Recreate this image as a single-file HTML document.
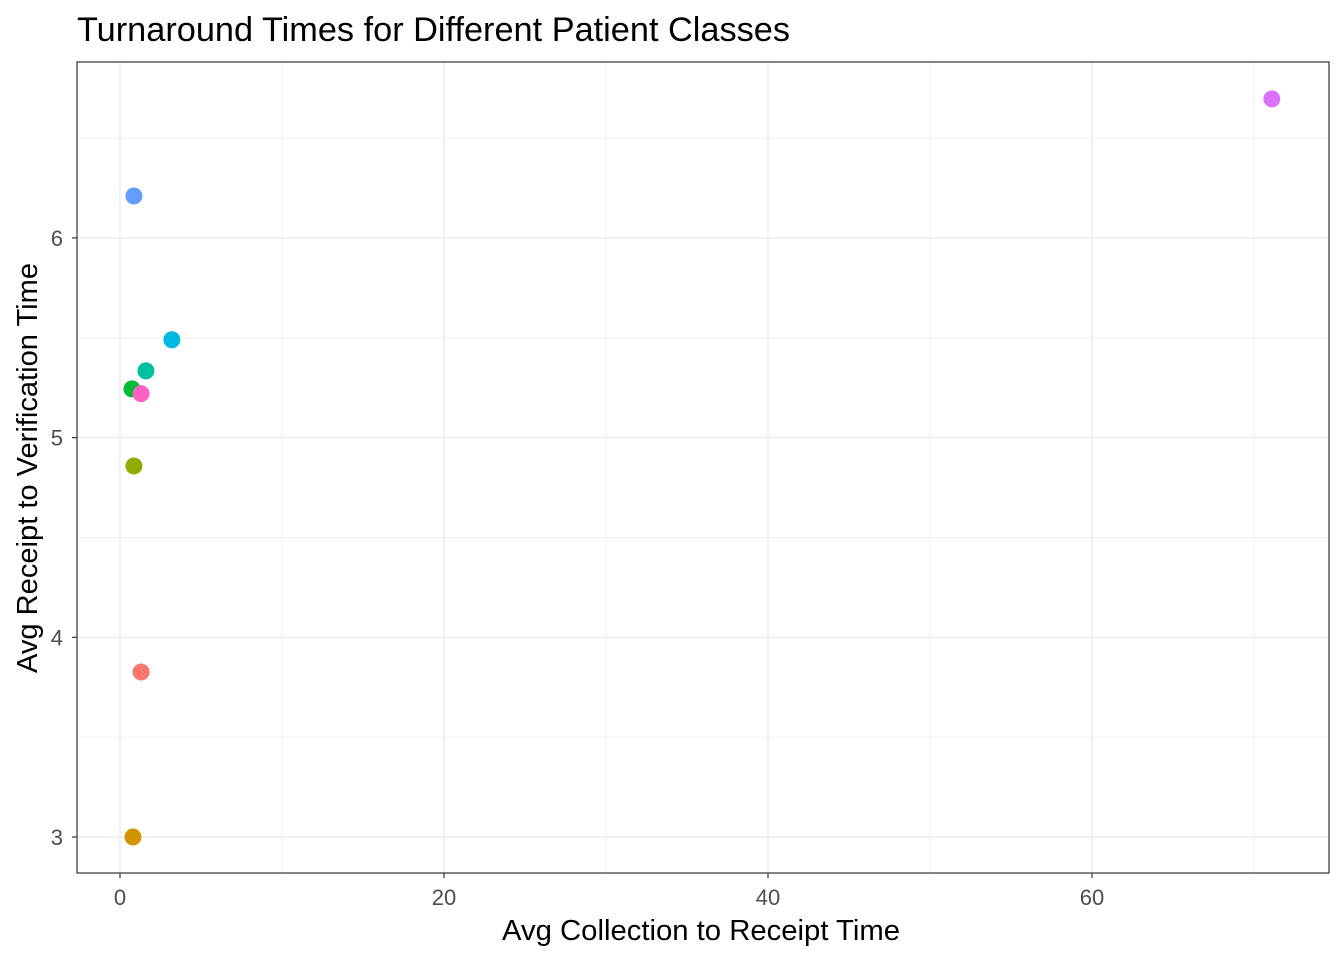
<!DOCTYPE html>
<html><head><meta charset="utf-8"><style>
body{margin:0;background:#fff;}
svg{display:block;font-family:"Liberation Sans",Arial,sans-serif;}
</style></head><body>
<svg id="chart" width="1344" height="960">
<text x="77" y="41" font-size="34" fill="#000" textLength="713" lengthAdjust="spacingAndGlyphs">Turnaround Times for Different Patient Classes</text>
<g id="grid"></g>
<g id="pts"></g>
<rect x="77" y="62" width="1252" height="811" fill="none" stroke="#333" stroke-width="1.2"/>
<g id="axes"></g>
<text x="701" y="940" font-size="29" text-anchor="middle" textLength="398" lengthAdjust="spacingAndGlyphs">Avg Collection to Receipt Time</text>
<text transform="translate(37,468) rotate(-90)" font-size="29" text-anchor="middle" textLength="410" lengthAdjust="spacingAndGlyphs">Avg Receipt to Verification Time</text>
</svg>
<script>
const xVals=[71.1,0.86,3.2,1.6,0.74,1.3,0.86,1.3,0.8];
const yVals=[6.696,6.21,5.49,5.334,5.244,5.22,4.858,3.826,3.0];
const colors=["#DB72FB","#619CFF","#00B9E3","#00C19F","#00BA38","#FF61C3","#93AA00","#F8766D","#D39200"];
const xTicks=[0,20,40,60];
const yTicks=[3,4,5,6];
const xMinor=[10,30,50,70];
const yMinor=[3.5,4.5,5.5,6.5];
const NS="http://www.w3.org/2000/svg";
const X=v=>120+v*16.2;
const Y=v=>837-(v-3)*199.7;
const grid=document.getElementById('grid'),axes=document.getElementById('axes'),pts=document.getElementById('pts');
function mk(tag,attrs,parent){const e=document.createElementNS(NS,tag);for(const k in attrs)e.setAttribute(k,attrs[k]);parent.appendChild(e);return e;}
xMinor.forEach(v=>{const l=mk('line',{x1:X(v),x2:X(v),y1:62,y2:873,stroke:'#f0f0f0','stroke-width':1},grid);

});
yMinor.forEach(v=>{const l=mk('line',{x1:77,x2:1329,y1:Y(v),y2:Y(v),stroke:'#f0f0f0','stroke-width':1},grid);

});
xTicks.forEach(v=>{const l=mk('line',{x1:X(v),x2:X(v),y1:62,y2:873,stroke:'#ebebeb','stroke-width':1.4},grid);


const t=mk('line',{x1:X(v),x2:X(v),y1:873,y2:878,stroke:'#333','stroke-width':1.2},axes);


const tx=mk('text',{x:X(v),y:905,'font-size':22,'text-anchor':'middle',fill:'#4d4d4d'},axes);tx.textContent=v;

});
yTicks.forEach(v=>{const l=mk('line',{x1:77,x2:1329,y1:Y(v),y2:Y(v),stroke:'#ebebeb','stroke-width':1.4},grid);


const t=mk('line',{x1:72,x2:77,y1:Y(v),y2:Y(v),stroke:'#333','stroke-width':1.2},axes);


const tx=mk('text',{x:63,y:Y(v)+8,'font-size':22,'text-anchor':'end',fill:'#4d4d4d'},axes);tx.textContent=v;

});
xVals.forEach((v,i)=>{const c=mk('circle',{cx:X(v),cy:Y(yVals[i]),r:8.5,fill:colors[i]},pts);

});
</script>
</body></html>
